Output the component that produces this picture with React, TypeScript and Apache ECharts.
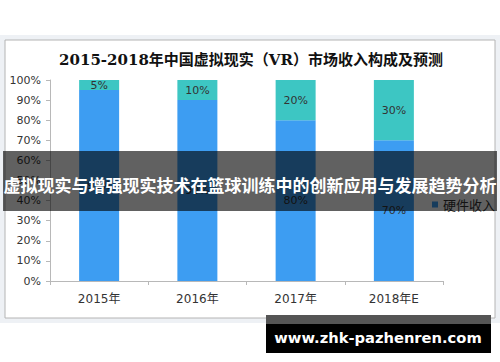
import React, { useEffect, useRef } from "react";
import * as echarts from "echarts";

const categories = ["2015年", "2016年", "2017年", "2018年E"];
const hardware = [95, 90, 80, 70];
const content = [5, 10, 20, 30];
const yTicks = [0, 10, 20, 30, 40, 50, 60, 70, 80, 90, 100];
const titleText = "2015-2018年中国虚拟现实（VR）市场收入构成及预测";
const bannerText = "虚拟现实与增强现实技术在篮球训练中的创新应用与发展趋势分析";
const siteText = "www.zhk-pazhenren.com";

export default function App() {
  const ref = useRef<HTMLDivElement>(null);
  useEffect(() => {
    const chart = echarts.init(ref.current!, null, { renderer: "svg" });
    const labelStyle = {
      show: true,
      position: "inside",
      formatter: "{c}%",
      color: "#333",
      fontSize: 11,
      fontFamily: "DejaVu Sans, Noto Sans CJK SC",
    };
    chart.setOption({
      animation: false,
      backgroundColor: "#ffffff",
      grid: { left: 50, right: 57, top: 80, bottom: 81 },
      legend: {
        orient: "vertical",
        left: 427,
        top: 196,
        itemWidth: 6,
        itemHeight: 6,
        itemGap: 0,
        icon: "rect",
        data: ["硬件收入"],
        textStyle: { fontSize: 13, color: "#333", lineHeight: 17, fontFamily: "Noto Sans CJK SC" },
      },
      xAxis: {
        type: "category",
        data: categories,
        axisLine: { lineStyle: { color: "#b8b8b8" } },
        axisTick: { show: true, length: 4, lineStyle: { color: "#b8b8b8" } },
        axisLabel: { color: "#333", fontSize: 12, margin: 12, fontFamily: "DejaVu Sans, Noto Sans CJK SC" },
      },
      yAxis: {
        type: "value",
        min: 0,
        max: 100,
        interval: 10,
        axisLine: { show: true, lineStyle: { color: "#b8b8b8" } },
        axisTick: { show: true, length: 4, lineStyle: { color: "#b8b8b8" } },
        splitLine: { show: false },
        axisLabel: {
          color: "#333",
          fontSize: 11,
          margin: 9,
          fontFamily: "DejaVu Sans, Noto Sans CJK SC",
          formatter: (v: number) => (yTicks.includes(v) ? v + "%" : ""),
        },
      },
      series: [
        {
          name: "硬件收入",
          type: "bar",
          stack: "total",
          barWidth: 40,
          data: hardware,
          itemStyle: { color: "#3d9df2" },
          label: labelStyle,
        },
        {
          name: "内容收入",
          type: "bar",
          stack: "total",
          barWidth: 40,
          data: content,
          itemStyle: { color: "#3dc6c3" },
          label: labelStyle,
        },
      ],
      graphic: [
        { type: "rect", z: -20, shape: { x: 0, y: 35, width: 500, height: 288 }, style: { fill: "#eef1f5" }, silent: true },
        { type: "rect", z: -19, shape: { x: 5, y: 40, width: 490, height: 278 }, style: { fill: "#ffffff", stroke: "#b4b4b4", lineWidth: 1 }, silent: true },
        {
          type: "text",
          z: -18,
          x: 251,
          y: 60,
          style: {
            text: titleText,
            fill: "#111",
            font: "bold 15px 'DejaVu Serif', 'Noto Sans CJK SC'",
            align: "center",
            verticalAlign: "middle",
          },
        },
        { type: "rect", z: 100, shape: { x: 3, y: 151, width: 494, height: 60 }, style: { fill: "rgba(0,0,0,0.62)" }, silent: true },
        {
          type: "text",
          z: 101,
          x: 250,
          y: 184,
          style: {
            text: bannerText,
            fill: "#ffffff",
            font: "bold 17px 'Noto Sans CJK SC'",
            align: "center",
            verticalAlign: "middle",
          },
        },
        { type: "rect", z: 100, shape: { x: 266, y: 315, width: 225, height: 38 }, style: { fill: "#000000" }, silent: true },
        { type: "rect", z: 100, shape: { x: 266, y: 315, width: 225, height: 9 }, style: { fill: "#555555" }, silent: true },
        {
          type: "text",
          z: 101,
          x: 378,
          y: 337,
          style: {
            text: siteText,
            fill: "#ffffff",
            font: "bold 14.7px 'DejaVu Sans'",
            align: "center",
            verticalAlign: "middle",
          },
        },
      ],
    });
    chart.setOption({ legend: { top: 191 } });
    return () => chart.dispose();
  }, []);
  return <div ref={ref} style={{ position: "fixed", left: 0, top: 0, width: 500, height: 362 }} />;
}
